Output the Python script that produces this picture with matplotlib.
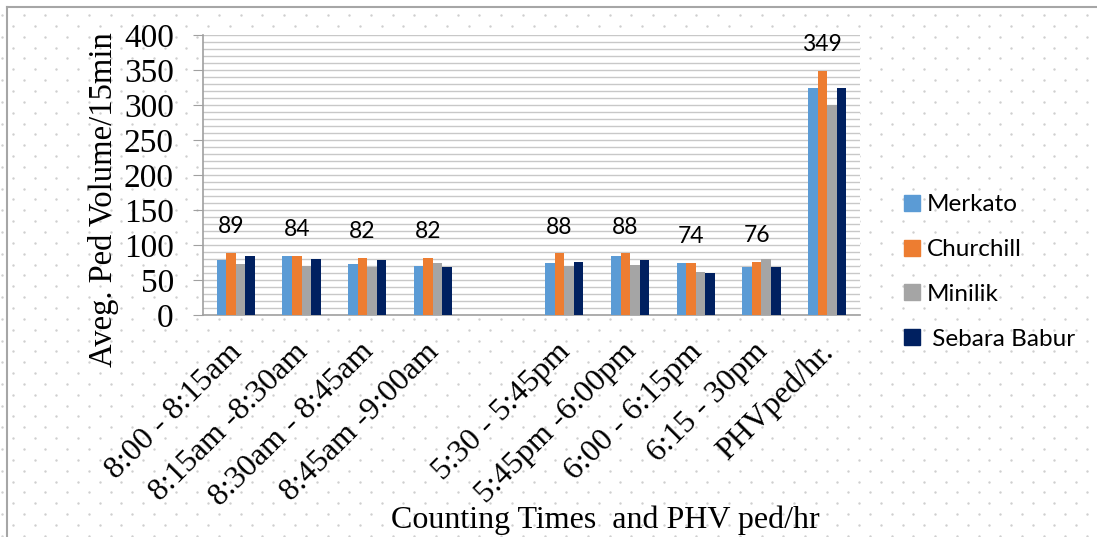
import numpy as np
import matplotlib.pyplot as plt
from matplotlib.lines import Line2D

# counting periods (one empty slot separates morning and evening counts)
periods = ['8:00 - 8:15am', '8:15am -8:30am', '8:30am - 8:45am', '8:45am -9:00am', '',
           '5:30 - 5:45pm', '5:45pm -6:00pm', '6:00 - 6:15pm', '6:15 - 30pm', 'PHVped/hr.']

merkato = [78, 85, 73, 70, None, 75, 85, 75, 69, 324]
churchill = [89, 84, 82, 82, None, 88, 88, 74, 76, 349]
minilik = [73, 70, 68, 74, None, 70, 71, 61, 80, 300]
sebara = [84, 80, 78, 68, None, 76, 79, 60, 68, 324]

series = [('Merkato', merkato, '#5B9BD5'),
          ('Churchill', churchill, '#ED7D31'),
          ('Minilik', minilik, '#A5A5A5'),
          (' Sebara Babur', sebara, '#002060')]

W, H = 1097, 537
fig = plt.figure(figsize=(W / 100, H / 100), dpi=100)

# dotted backdrop + frame on top and left
bg = fig.add_axes([0, 0, 1, 1], zorder=-10)
bg.set_xlim(0, W)
bg.set_ylim(H, 0)
bg.axis('off')
dx, dy = 21.7, 10.85
pts = []
for r in range(int(H / dy) + 2):
    y = 15 + r * dy
    off = 0 if r % 2 == 0 else dx / 2
    for c in range(int(W / dx) + 2):
        pts.append((2 + off + c * dx, y))
pts = np.array(pts)
bg.scatter(pts[:, 0], pts[:, 1], s=3, color='#cfcfcf', linewidths=0)
bg.plot([7, W], [7, 7], color='#a6a6a6', lw=1.5)
bg.plot([7, 7], [7, H], color='#a6a6a6', lw=1.5)

ax = fig.add_axes([203 / W, 222 / H, 657 / W, 280 / H])
ax.set_facecolor('white')

x = np.arange(len(periods))
bw = 0.145
for i, (name, vals, col) in enumerate(series):
    xs = [xi + (i - 1.5) * bw for xi, v in zip(x, vals) if v is not None]
    vs = [v for v in vals if v is not None]
    ax.bar(xs, vs, width=bw, color=col, label=name, zorder=3)

# Churchill values written above each group
for xi, v in zip(x, churchill):
    if v is None:
        continue
    ax.annotate(str(v), (xi - 0.5 * bw, v), xytext=(0, 19), textcoords='offset points',
                ha='center', va='center', fontsize=16.5, family='Lato', zorder=4)

ax.set_xlim(-0.5, len(periods) - 0.5)
ax.set_ylim(0, 400)
ax.set_yticks(np.arange(0, 401, 50))
ax.set_yticks(np.arange(0, 401, 10), minor=True)
ax.yaxis.grid(True, which='both', color='#c8c8c8', lw=1, zorder=0)
ax.set_axisbelow(True)
ax.tick_params(axis='y', which='major', length=7, color='#a0a0a0', pad=14,
               labelsize=24)
ax.tick_params(axis='y', which='minor', length=0)
for lab in ax.get_yticklabels():
    lab.set_family('Liberation Serif')

ax.set_xticks(x - 0.13)
ax.set_xticklabels(periods, rotation=45, ha='right', va='top', rotation_mode='anchor',
                   fontsize=23, family='Liberation Serif')
ax.tick_params(axis='x', length=0, pad=16)

for s in ['top', 'right']:
    ax.spines[s].set_visible(False)
for s in ['left', 'bottom']:
    ax.spines[s].set_color('#a0a0a0')
    ax.spines[s].set_linewidth(1.2)

fig.text(104 / W, 1 - 200 / H, 'Aveg. Ped Volume/15min', rotation=90, ha='center', va='center',
         fontsize=23.5, family='Liberation Serif')
fig.text(605 / W, 1 - 528 / H, 'Counting Times  and PHV ped/hr', ha='center', va='baseline',
         fontsize=23, family='Liberation Serif')

handles = [Line2D([], [], marker='s', ls='', markersize=11, color=c) for _, _, c in series]
fig.legend(handles, [n for n, _, _ in series], loc='center left',
           bbox_to_anchor=(879 / W, 1 - 272 / H), frameon=False,
           prop={'family': 'Lato', 'size': 17.5}, handlelength=0.9, handletextpad=0.15,
           labelspacing=0.98)

fig.savefig('out.png', dpi=100)
